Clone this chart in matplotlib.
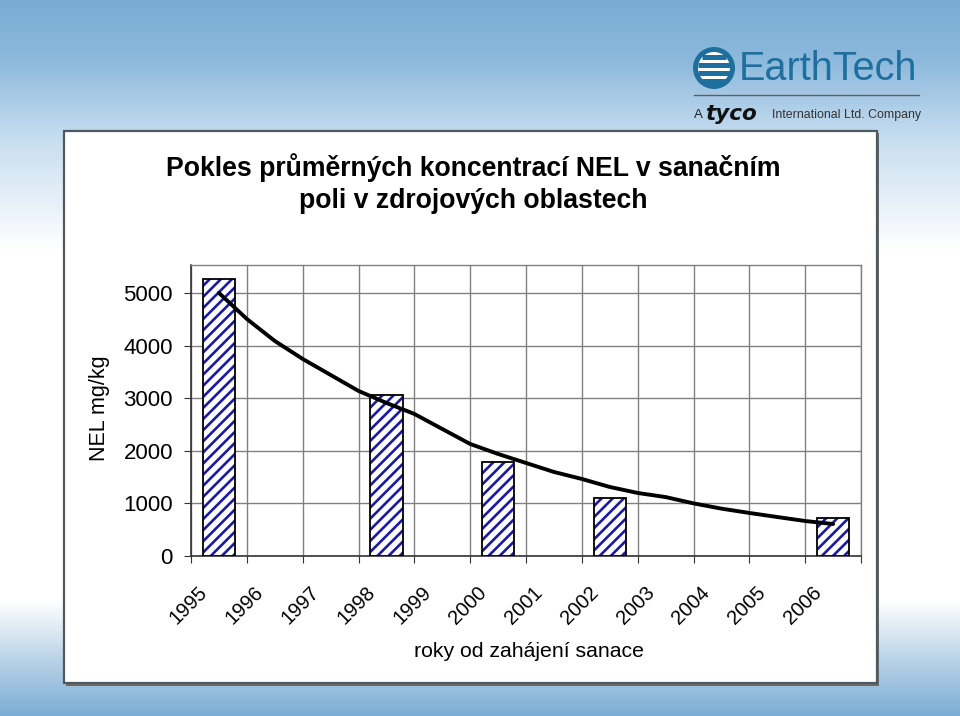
import numpy as np
import matplotlib
matplotlib.use("Agg")
import matplotlib.pyplot as plt
from matplotlib.patches import Rectangle, Circle
from matplotlib.transforms import ScaledTranslation, blended_transform_factory

plt.rcParams['font.family'] = ['Liberation Sans', 'DejaVu Sans']
plt.rcParams['hatch.linewidth'] = 1.9

# ---- data ----
years = ['1995', '1996', '1997', '1998', '1999', '2000', '2001', '2002', '2003', '2004', '2005', '2006']
bar_years = ['1995', '1998', '2000', '2002', '2006']
bar_values = [5260, 3060, 1790, 1100, 720]
trend_pos = [0, 0.5, 1, 1.5, 2, 2.5, 3, 3.5, 4, 4.5, 5, 5.5, 6, 6.5, 7, 7.5, 8, 8.5, 9, 9.5, 10, 10.5, 11]
trend_values = [5000, 4505, 4087, 3745, 3441, 3137, 2909, 2700, 2414, 2129, 1939, 1768,
                1597, 1464, 1312, 1198, 1120, 1000, 900, 818, 741, 665, 608]
y_ticks = [0, 1000, 2000, 3000, 4000, 5000]

W, H = 960, 716
fig = plt.figure(figsize=(W / 100, H / 100), dpi=100)

# background gradient
bg = fig.add_axes([0, 0, 1, 1], zorder=-10)
rows = np.arange(H)
stops_y = [0, 60, 140, 250, 600, 660, 716]
stops_c = np.array([[122, 172, 210], [140, 185, 220], [200, 222, 240], [255, 255, 255],
                    [255, 255, 255], [185, 210, 232], [122, 172, 212]]) / 255.0
grad = np.stack([np.interp(rows, stops_y, stops_c[:, k]) for k in range(3)], axis=-1)
bg.imshow(grad[:, None, :], aspect='auto', extent=[0, W, H, 0])
bg.set_xlim(0, W)
bg.set_ylim(H, 0)
bg.axis('off')

# panel
bg.add_patch(Rectangle((66, 133), 813, 553, facecolor='#6a6a6a', edgecolor='none', zorder=1))
bg.add_patch(Rectangle((64, 131), 813, 552, facecolor='white', edgecolor='#505860', linewidth=1.6, zorder=2))

# logo
teal = '#1f6f9e'
bg.add_patch(Circle((714, 68), 21, facecolor=teal, edgecolor='none', zorder=3))
bg.add_patch(Circle((714, 68), 16, facecolor='white', edgecolor='none', zorder=3))
for yy, x0, x1 in [(57, 702, 726), (65, 698, 730), (73, 698, 730), (81, 702, 726)]:
    bg.plot([x0, x1], [yy, yy], color=teal, lw=3.6, solid_capstyle='butt', zorder=4)
bg.text(739, 69, 'EarthTech', color=teal, fontsize=28.5, va='center', ha='left', zorder=4)
bg.plot([694, 919], [95, 95], color='#606060', lw=1.0, zorder=4)
bg.text(694, 115, 'A', color='#222222', fontsize=9.5, va='center', ha='left', zorder=4)
bg.text(705, 114, 'tyco', color='#111111', fontsize=15.5, fontweight='bold', style='italic',
        family='DejaVu Sans', va='center', ha='left', zorder=4)
bg.text(772, 115, 'International Ltd. Company', color='#333333', fontsize=8.9,
        va='center', ha='left', zorder=4)

# title
bg.text(473, 168, 'Pokles průměrných koncentrací NEL v sanačním', fontsize=19.2, fontweight='bold',
        ha='center', va='center', zorder=4)
bg.text(473, 201, 'poli v zdrojových oblastech', fontsize=19.2, fontweight='bold',
        ha='center', va='center', zorder=4)

# main axes
ax = fig.add_axes([191 / W, 1 - 556 / H, (861 - 191) / W, (556 - 265) / H], zorder=5)
ax.set_facecolor('none')
x_idx = np.arange(len(years))
bx = [years.index(y) for y in bar_years]
ax.bar(bx, bar_values, width=0.58, color='white', edgecolor='#1a1aa0', hatch='///', linewidth=0, zorder=3)
ax.bar(bx, bar_values, width=0.58, fill=False, edgecolor='black', linewidth=1.3, zorder=4)
ax.plot(trend_pos, trend_values, color='black', lw=2.8, zorder=5, solid_capstyle='round')

ax.set_xlim(-0.5, len(years) - 0.5)
ax.set_ylim(0, 5530)
ax.set_yticks(y_ticks)
ax.set_yticklabels([str(v) for v in y_ticks], fontsize=16)
ax.set_xticks(np.arange(-0.5, len(years), 1.0))
ax.set_xticklabels([])
# rotated category labels
btr = blended_transform_factory(ax.transData, ax.transAxes) + ScaledTranslation(-21 / 100, -27 / 100, fig.dpi_scale_trans)
for i, lab in zip(x_idx, years):
    ax.text(i, 0, lab, transform=btr, rotation=45, ha='right', va='top', rotation_mode='anchor',
            fontsize=14.5, clip_on=False)
ax.tick_params(axis='x', which='major', length=5, color='#333333', direction='out')
ax.tick_params(axis='y', length=5, color='#333333', direction='out', pad=8)
ax.grid(True, which='major', color='#808080', lw=1.0, zorder=0)
for s in ['top', 'right']:
    ax.spines[s].set_color('#808080')
    ax.spines[s].set_linewidth(1.0)
for s in ['left', 'bottom']:
    ax.spines[s].set_color('#333333')
    ax.spines[s].set_linewidth(1.2)
ax.set_axisbelow(True)

ax.set_ylabel('NEL mg/kg', fontsize=15.5)
ax.yaxis.set_label_coords(-0.121, 0.507)
ax.set_xlabel('roky od zahájení sanace', fontsize=15.3)
ax.xaxis.set_label_coords(0.505, -0.296)

fig.savefig('out.png', dpi=100)
